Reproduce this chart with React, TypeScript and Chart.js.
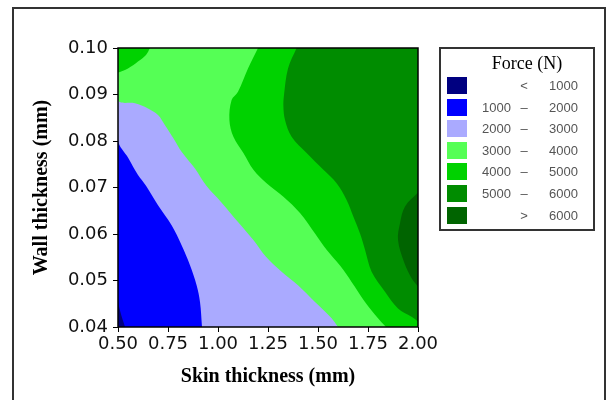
import React, { useEffect, useRef } from "react";
import { Chart, registerables } from "chart.js";

Chart.register(...registerables);

// Axes
const skinMin = 0.5;
const skinMax = 2.0;
const wallMin = 0.04;
const wallMax = 0.1;
const skinTicks = [0.5, 0.75, 1.0, 1.25, 1.5, 1.75, 2.0];
const wallTicks = [0.04, 0.05, 0.06, 0.07, 0.08, 0.09, 0.1];

// Force bands (N)
const levelColors = ["#000080", "#0000FF", "#AAAAFF", "#55FF55", "#00D200", "#008C00", "#006400"];
const legendLow = ["", "1000", "2000", "3000", "4000", "5000", ""];
const legendSep = ["<", "\u2013", "\u2013", "\u2013", "\u2013", "\u2013", ">"];
const legendHigh = ["1000", "2000", "3000", "4000", "5000", "6000", "6000"];

// Contour boundaries (wall ascending)
const c1000Wall = [0.04, 0.0432, 0.0462, 0.1];
const c1000Skin = [0.535, 0.512, 0.5, 0.5];

const c2000Wall = [0.04, 0.0454, 0.049, 0.0533, 0.0576, 0.0619, 0.0662, 0.0704, 0.0727, 0.0763, 0.0802, 0.1];
const c2000Skin = [0.92, 0.91, 0.893, 0.86, 0.818, 0.768, 0.7, 0.64, 0.6, 0.552, 0.5, 0.5];

const c3000Wall = [0.04, 0.0419, 0.0454, 0.049, 0.0519, 0.0551, 0.0587, 0.0626, 0.0669, 0.0703, 0.0741, 0.0777, 0.0806, 0.0834, 0.0856, 0.087, 0.0881, 0.0888, 0.1];
const c3000Skin = [1.6, 1.568, 1.485, 1.4, 1.318, 1.24, 1.177, 1.1, 1.015, 0.943, 0.885, 0.818, 0.777, 0.735, 0.7, 0.65, 0.585, 0.5, 0.5];

const c4000Wall = [0.04, 0.0419, 0.0454, 0.0497, 0.0532, 0.0566, 0.0601, 0.0645, 0.068, 0.0709, 0.0738, 0.0774, 0.0809, 0.0845, 0.0888, 0.0906, 0.0956, 0.1];
const c4000Skin = [1.84, 1.8, 1.735, 1.668, 1.61, 1.543, 1.485, 1.41, 1.327, 1.243, 1.177, 1.127, 1.077, 1.057, 1.068, 1.1, 1.15, 1.2];

const c4000CornerWall = [0.0947, 0.0956, 0.0971, 0.0985, 0.1];
const c4000CornerSkin = [0.5, 0.55, 0.6, 0.64, 0.66];

const c5000Wall = [0.0412, 0.0422, 0.044, 0.0476, 0.0519, 0.0566, 0.0601, 0.0637, 0.0673, 0.0709, 0.0738, 0.0774, 0.0809, 0.0845, 0.0874, 0.0899, 0.0956, 0.1];
const c5000Skin = [2.0, 1.968, 1.9, 1.835, 1.768, 1.735, 1.71, 1.677, 1.643, 1.593, 1.527, 1.443, 1.368, 1.335, 1.327, 1.33, 1.35, 1.393];

const c6000Wall = [0.0487, 0.0505, 0.054, 0.0587, 0.0623, 0.0659, 0.0689];
const c6000Skin = [2.0, 1.968, 1.93, 1.9, 1.91, 1.935, 2.0];

const pts = (skin: number[], wall: number[]) => skin.map((s, i) => ({ x: s, y: wall[i] }));

const plotBorder = {
  id: "plotBorder",
  afterDatasetsDraw(chart: any) {
    const { ctx, chartArea } = chart;
    ctx.save();
    ctx.strokeStyle = "#000";
    ctx.lineWidth = 1.5;
    ctx.strokeRect(chartArea.left, chartArea.top, chartArea.right - chartArea.left, chartArea.bottom - chartArea.top);
    ctx.restore();
  },
};

export default function App() {
  const ref = useRef<HTMLCanvasElement | null>(null);

  useEffect(() => {
    if (!ref.current) return;
    const layer = (data: any[], color: string, toValue: number, order: number) => ({
      data,
      backgroundColor: color,
      borderColor: "rgba(0,0,0,0)",
      borderWidth: 0,
      pointRadius: 0,
      tension: 0.35,
      fill: { value: toValue },
      order,
    });
    const datasets = [
      layer(pts([skinMin, skinMin], [wallMin, wallMax]), levelColors[0], skinMax, 100),
      layer(pts(c1000Skin, c1000Wall), levelColors[1], skinMax, 99),
      layer(pts(c2000Skin, c2000Wall), levelColors[2], skinMax, 98),
      layer(pts(c3000Skin, c3000Wall), levelColors[3], skinMax, 97),
      layer(pts(c4000Skin, c4000Wall), levelColors[4], skinMax, 96),
      layer(pts(c4000CornerSkin, c4000CornerWall), levelColors[4], skinMin, 95),
      layer(pts(c5000Skin, c5000Wall), levelColors[5], skinMax, 94),
      layer(pts(c6000Skin, c6000Wall), levelColors[6], skinMax, 93),
    ];
    const tickFont = { family: "DejaVu Sans", size: 18 };
    const titleFont = { family: "Liberation Serif", size: 20, weight: "bold" as const };
    const chart = new Chart(ref.current, {
      type: "line",
      data: { datasets: datasets as any },
      options: {
        animation: false,
        responsive: false,
        devicePixelRatio: 1,
        indexAxis: "y",
        layout: { padding: { left: 0, top: 48, right: 190, bottom: 0 } },
        plugins: { legend: { display: false }, tooltip: { enabled: false } },
        scales: {
          x: {
            type: "linear",
            position: "bottom",
            min: skinMin,
            max: skinMax,
            afterBuildTicks: (s: any) => {
              s.ticks = skinTicks.map((v) => ({ value: v }));
            },
            afterFit: (s: any) => {
              s.height = 73;
            },
            ticks: {
              autoSkip: false,
              maxRotation: 0,
              font: tickFont,
              color: "#111",
              padding: 2,
              callback: (v: any) => Number(v).toFixed(2),
            },
            grid: { drawOnChartArea: false, drawTicks: true, tickLength: 5, color: "#000" },
            border: { display: false },
            title: {
              display: true,
              text: "Skin thickness (mm)",
              font: titleFont,
              color: "#000",
              padding: { top: 0, bottom: 11 },
            },
          },
          y: {
            type: "linear",
            position: "left",
            min: wallMin,
            max: wallMax,
            afterBuildTicks: (s: any) => {
              s.ticks = wallTicks.map((v) => ({ value: v }));
            },
            afterFit: (s: any) => {
              s.width = 118;
            },
            ticks: {
              autoSkip: false,
              font: tickFont,
              color: "#111",
              padding: 5,
              callback: (v: any) => Number(v).toFixed(2),
            },
            grid: { drawOnChartArea: false, drawTicks: true, tickLength: 5, color: "#000" },
            border: { display: false },
            title: {
              display: true,
              text: "Wall thickness (mm)",
              font: titleFont,
              color: "#000",
              padding: { top: 30, bottom: 0 },
            },
          },
        },
      } as any,
      plugins: [plotBorder],
    });
    return () => chart.destroy();
  }, []);

  const rowTop = (i: number) => 77 + i * 21.6;

  return (
    <div style={{ position: "absolute", left: 0, top: 0, width: 608, height: 400, overflow: "hidden", background: "#fff" }}>
      <div
        style={{
          position: "absolute",
          left: 12,
          top: 7,
          width: 590,
          height: 420,
          border: "2px solid #333",
        }}
      />
      <canvas ref={ref} width={608} height={400} style={{ position: "absolute", left: 0, top: 0, display: "block" }} />
      <div
        style={{
          position: "absolute",
          left: 439,
          top: 47,
          width: 152,
          height: 180,
          border: "2px solid #333",
        }}
      />
      <div
        style={{
          position: "absolute",
          left: 460,
          top: 52,
          width: 134,
          textAlign: "center",
          fontFamily: "Liberation Serif",
          fontSize: 18,
          lineHeight: "22px",
          color: "#000",
        }}
      >
        Force (N)
      </div>
      {levelColors.map((c, i) => (
        <React.Fragment key={i}>
          <div
            style={{
              position: "absolute",
              left: 447,
              top: rowTop(i),
              width: 20,
              height: 17,
              background: c,
            }}
          />
          <div
            style={{
              position: "absolute",
              left: 470,
              top: rowTop(i),
              width: 41,
              height: 17,
              textAlign: "right",
              fontFamily: "Liberation Sans",
              fontSize: 13,
              lineHeight: "17px",
              color: "#555",
            }}
          >
            {legendLow[i]}
          </div>
          <div
            style={{
              position: "absolute",
              left: 514,
              top: rowTop(i),
              width: 20,
              height: 17,
              textAlign: "center",
              fontFamily: "Liberation Sans",
              fontSize: 13,
              lineHeight: "17px",
              color: "#555",
            }}
          >
            {legendSep[i]}
          </div>
          <div
            style={{
              position: "absolute",
              left: 537,
              top: rowTop(i),
              width: 41,
              height: 17,
              textAlign: "right",
              fontFamily: "Liberation Sans",
              fontSize: 13,
              lineHeight: "17px",
              color: "#555",
            }}
          >
            {legendHigh[i]}
          </div>
        </React.Fragment>
      ))}
    </div>
  );
}
